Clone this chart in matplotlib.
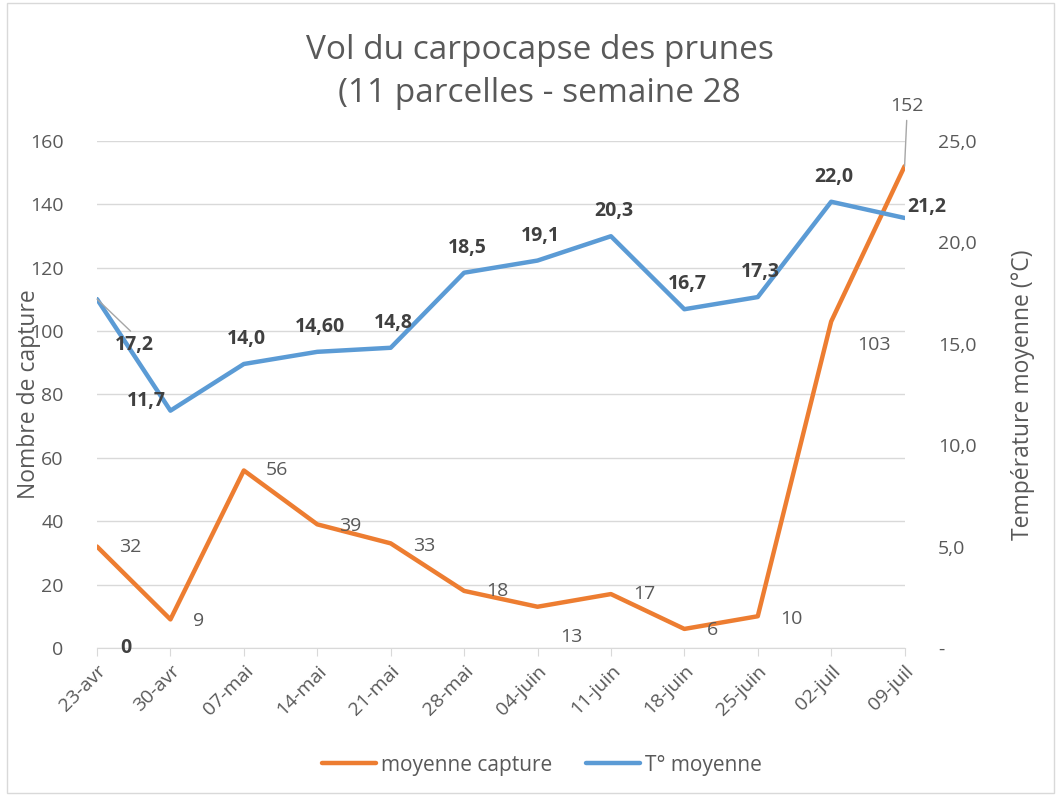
import matplotlib
matplotlib.use("Agg")
import matplotlib.pyplot as plt
from matplotlib.ticker import FuncFormatter
from matplotlib.patches import Rectangle

categories = ["23-avr", "30-avr", "07-mai", "14-mai", "21-mai", "28-mai",
              "04-juin", "11-juin", "18-juin", "25-juin", "02-juil", "09-juil"]
captures = [32, 9, 56, 39, 33, 18, 13, 17, 6, 10, 103, 152]
temperatures = [17.2, 11.7, 14.0, 14.6, 14.8, 18.5, 19.1, 20.3, 16.7, 17.3, 22.0, 21.2]
temp_labels = ["17,2", "11,7", "14,0", "14,60", "14,8", "18,5", "19,1", "20,3",
               "16,7", "17,3", "22,0", "21,2"]

plt.rcParams['font.family'] = ['Open Sans', 'DejaVu Sans']
GRAY = "#595959"
DARK = "#404040"
ORANGE = "#ED7D31"
BLUE = "#5B9BD5"
FS = 14

fig = plt.figure(figsize=(10.58, 7.96), dpi=100)
fig.patches.append(Rectangle((7 / 1058, 3 / 796), 1 - 11 / 1058, 1 - 6 / 796,
                             transform=fig.transFigure,
                             fill=False, edgecolor="#d9d9d9", linewidth=1))
ax = fig.add_axes([0.0917, 0.186, 0.7633, 0.637])
ax2 = ax.twinx()

x = list(range(len(categories)))
ax.plot(x, captures, color=ORANGE, lw=3.2, solid_capstyle="round", zorder=3,
        label="moyenne capture")
ax2.plot(x, temperatures, color=BLUE, lw=3.2, solid_capstyle="round", zorder=3,
         label="T° moyenne")

ax.set_xlim(0, len(categories) - 1)
ax.set_ylim(0, 160)
ax2.set_ylim(0, 25)
ax.set_yticks(range(0, 161, 20))
ax2.set_yticks(range(0, 26, 5))
ax2.yaxis.set_major_formatter(FuncFormatter(lambda v, p: "-" if v == 0 else f"{v:.1f}".replace(".", ",")))

ax.grid(axis="y", color="#d9d9d9", lw=1)
ax.set_axisbelow(True)
for a in (ax, ax2):
    for s in a.spines.values():
        s.set_visible(False)
ax.spines["bottom"].set_visible(True)
ax.spines["bottom"].set_color("#d9d9d9")
ax.tick_params(axis="y", length=0, labelsize=FS, labelcolor=GRAY, pad=24)
ax2.tick_params(axis="y", length=0, labelsize=FS, labelcolor=GRAY, pad=24)
ax.set_xticks(x)
ax.set_xticklabels(categories, rotation=45, ha="right", rotation_mode="anchor")
ax.tick_params(axis="x", length=6, color="#d9d9d9", labelsize=FS, labelcolor=GRAY, pad=4)

fig.text(29 / 1058, 1 - 394 / 796, "Nombre de capture", rotation=90, fontsize=16.5,
         color=GRAY, ha="center", va="center")
fig.text(1023 / 1058, 1 - 395 / 796, "Température moyenne (°C)", rotation=90, fontsize=16.5,
         color=GRAY, ha="center", va="center")

# capture labels (offsets in points)
cap_off = {0: (16, 0), 1: (16, -1), 2: (16, 0), 3: (16, -1), 4: (16, -2), 5: (16, 0),
           6: (16, -22), 7: (16, 0), 8: (16, -1), 9: (16, -2), 10: (19, -17)}
for i, v in enumerate(captures):
    if i == 11:
        ax.annotate(str(v), (i, v), xytext=(2, 37), textcoords="offset points",
                    fontsize=FS, color=GRAY, ha="center", va="bottom",
                    arrowprops=dict(arrowstyle="-", color="#a6a6a6", lw=1, shrinkA=2, shrinkB=0))
    else:
        dx, dy = cap_off[i]
        ax.annotate(str(v), (i, v), xytext=(dx, dy), textcoords="offset points",
                    fontsize=FS, color=GRAY, ha="left", va="center")

# temperature labels
for i, (v, lab) in enumerate(zip(temperatures, temp_labels)):
    if i == 0:
        ax2.annotate(lab, (i, v), xytext=(27, -33), textcoords="offset points",
                     fontsize=FS, color=DARK, fontweight="bold", ha="center", va="center",
                     arrowprops=dict(arrowstyle="-", color="#a6a6a6", lw=1, shrinkA=1, shrinkB=0,
                                     relpos=(0.5, 1.0)))
    elif i == 1:
        ax2.annotate(lab, (i, v), xytext=(-17, 7), textcoords="offset points",
                     fontsize=FS, color=DARK, fontweight="bold", ha="center", va="center")
    elif i == 11:
        ax2.annotate(lab, (i, v), xytext=(2, 8), textcoords="offset points",
                     fontsize=FS, color=DARK, fontweight="bold", ha="left", va="center")
    else:
        ax2.annotate(lab, (i, v), xytext=(2, 18), textcoords="offset points",
                     fontsize=FS, color=DARK, fontweight="bold", ha="center", va="center")

ax.annotate("0", (0, 0), xytext=(21, 0), textcoords="offset points",
            fontsize=FS, color=DARK, fontweight="bold", ha="center", va="center")

fig.text(0.51, 1 - 72 / 796, "Vol du carpocapse des prunes\n(11 parcelles - semaine 28",
         fontsize=24, color=GRAY, ha="center", va="center", linespacing=1.38)

h1, l1 = ax.get_legend_handles_labels()
h2, l2 = ax2.get_legend_handles_labels()
fig.legend(h1 + h2, l1 + l2, loc="center", bbox_to_anchor=(542 / 1058, 1 - 765 / 796), ncol=2,
           frameon=False, fontsize=15, labelcolor=GRAY, handlelength=2.6,
           handletextpad=0.25, columnspacing=1.6)

fig.savefig("out.png", dpi=100)
